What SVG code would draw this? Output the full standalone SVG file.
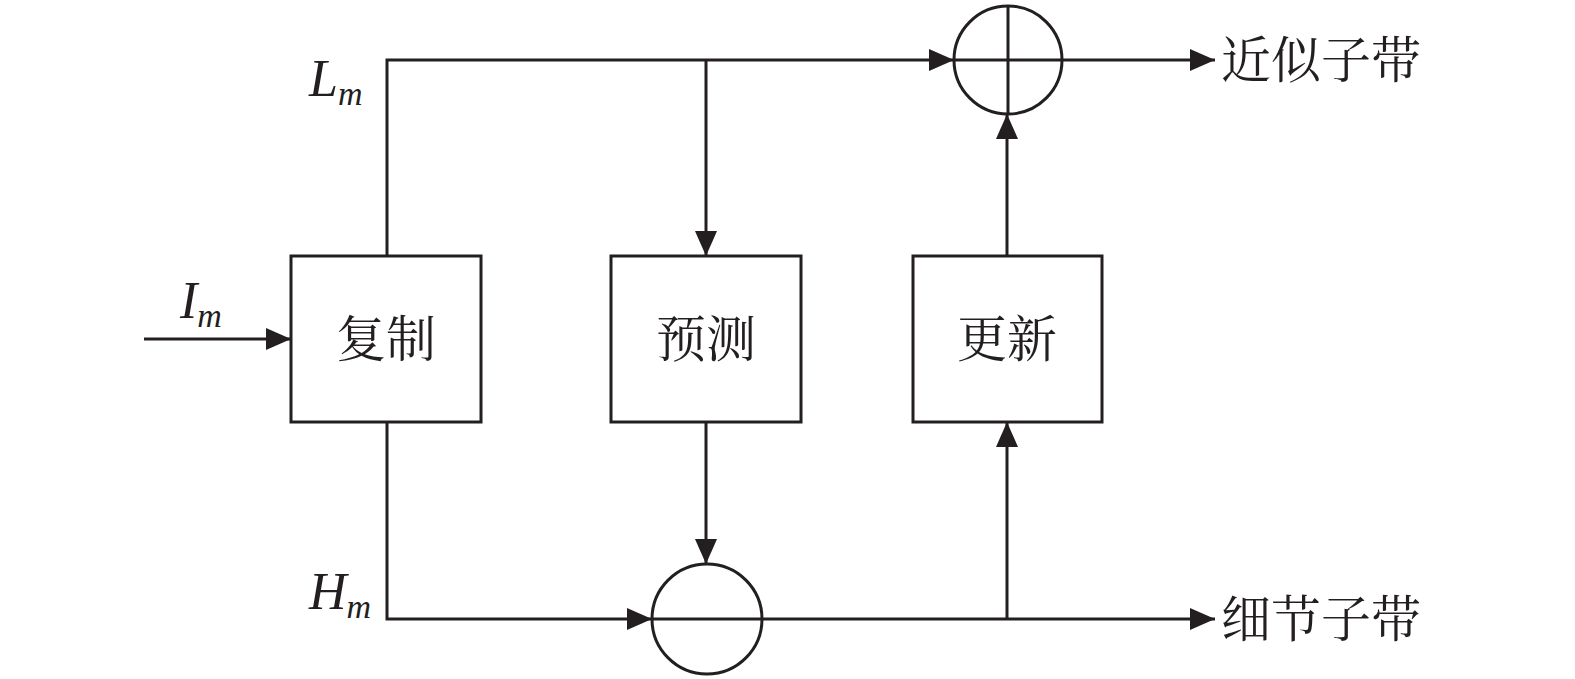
<svg xmlns="http://www.w3.org/2000/svg" width="1575" height="679" viewBox="0 0 1575 679">
<defs>
<marker id="ah" markerWidth="25" markerHeight="22" refX="25" refY="11" orient="auto" markerUnits="userSpaceOnUse">
<path d="M0,0 L25,11 L0,22 Z" fill="#231f20"/>
</marker>
<style>
.ln{stroke:#231f20;stroke-width:3;fill:none}
.bx{stroke:#231f20;stroke-width:3;fill:#fff}
.cn{font-family:"Liberation Serif","Noto Serif CJK SC","Noto Sans CJK SC",serif;font-size:50px;fill:#231f20}
.it{font-family:"Liberation Serif",serif;font-style:italic;fill:#231f20}
</style>
</defs>
<rect width="1575" height="679" fill="#fff"/>
<g id="connectors">
<path class="ln" d="M144,339 H291" marker-end="url(#ah)"/>
<path class="ln" d="M387,256 V60 H954" marker-end="url(#ah)"/>
<path class="ln" d="M706,60 V256" marker-end="url(#ah)"/>
<path class="ln" d="M1062,60 H1215" marker-end="url(#ah)"/>
<path class="ln" d="M387,422 V619 H652" marker-end="url(#ah)"/>
<path class="ln" d="M706,422 V564" marker-end="url(#ah)"/>
<path class="ln" d="M762,619 H1215" marker-end="url(#ah)"/>
<path class="ln" d="M1007,619 V422" marker-end="url(#ah)"/>
<path class="ln" d="M1007,256 V114" marker-end="url(#ah)"/>
</g>
<g id="copy"><rect class="bx" x="291" y="256" width="190" height="166"/><text class="cn" x="386" y="357" text-anchor="middle">复制</text></g>
<g id="predict"><rect class="bx" x="611" y="256" width="190" height="166"/><text class="cn" x="706" y="357" text-anchor="middle">预测</text></g>
<g id="update"><rect class="bx" x="913" y="256" width="189" height="166"/><text class="cn" x="1007" y="357" text-anchor="middle">更新</text></g>
<g id="sum"><circle class="ln" cx="1008" cy="60" r="54"/><path class="ln" d="M954,60 H1062 M1008,6 V114"/></g>
<g id="diff"><circle class="ln" cx="707" cy="619" r="55"/><path class="ln" d="M652,619 H762"/></g>
<g id="labels">
<text class="it" x="309" y="96" font-size="52">L<tspan font-size="34" dy="9">m</tspan></text>
<text class="it" x="180" y="318" font-size="52">I<tspan font-size="34" dy="9">m</tspan></text>
<text class="it" x="309" y="609" font-size="52">H<tspan font-size="34" dy="9">m</tspan></text>
<text class="cn" x="1221" y="78" font-size="51">近似子带</text>
<text class="cn" x="1221" y="637" font-size="51">细节子带</text>
</g>
</svg>
